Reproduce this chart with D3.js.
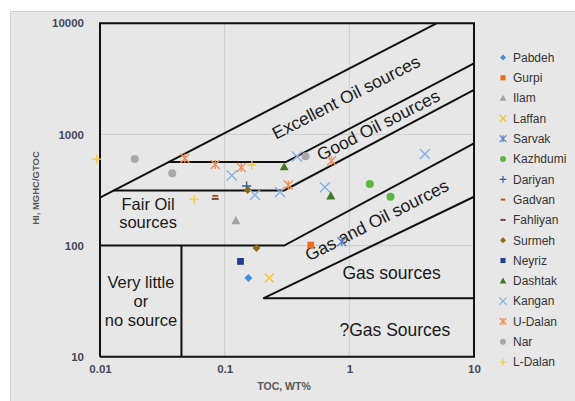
<!DOCTYPE html>
<html>
<head>
<meta charset="utf-8">
<script src="https://cdn.jsdelivr.net/npm/d3@7"></script>
<style>
  body { margin: 0; background: #fff; }
  svg text { font-family: "Liberation Sans", Arial, sans-serif; }
</style>
</head>
<body>
<div id="chart"></div>
<script>

// TOC (wt%), HI (mg HC / g TOC) pairs
const pabdeh   = [[0.155, 51]];
const gurpi    = [[0.49, 101]];
const ilam     = [[0.123, 168]];
const laffan   = [[0.228, 51]];
const sarvak   = [[0.87, 108]];
const kazhdumi = [[1.46, 358], [2.14, 275]];
const dariyan  = [[0.15, 344]];
const gadvan   = [[0.084, 280]];
const fahliyan = [[0.084, 263]];
const surmeh   = [[0.153, 317], [0.18, 95]];
const neyriz   = [[0.134, 72]];
const dashtak  = [[0.30, 513], [0.71, 280]];
const kangan   = [[0.114, 428], [0.175, 285], [0.278, 304], [0.38, 634], [0.637, 335], [4.04, 668]];
const uDalan   = [[0.048, 610], [0.084, 537], [0.136, 505], [0.324, 351], [0.72, 581]];
const nar      = [[0.019, 600], [0.038, 448], [0.445, 637]];
const lDalan   = [[0.0094, 600], [0.057, 262], [0.165, 531]];

const xTicks = [0.01, 0.1, 1, 10];
const yTicks = [10, 100, 1000, 10000];

// source-rock class boundaries (TOC, HI)
const boundaries = [
    [[0.01, 10], [10, 10], [10, 10000], [0.01, 10000], [0.01, 10]],
    [[0.01, 270], [5, 10000]],
    [[0.0356, 564], [0.31, 564], [10, 4365]],
    [[0.0129, 313], [0.30, 313], [10, 2512]],
    [[0.01, 100], [0.30, 100], [10, 832]],
    [[10, 275], [0.204, 33.5], [10, 33.5]],
    [[0.045, 10], [0.045, 100]]
];

const flatLabels = [
    { lines: ["Fair Oil", "sources"], at: [0.0243, 211] },
    { lines: ["Very little", "or", "no source"], at: [0.0213, 41.1] },
    { lines: ["Gas sources"], at: [2.18, 50] },
    { lines: ["?Gas Sources"], at: [2.32, 15.4] }
];
const slopeLabels = [
    { text: "Excellent Oil sources", at: [0.939, 2175] },
    { text: "Good Oil sources", at: [1.705, 1218] },
    { text: "Gas and Oil sources", at: [1.656, 170] }
];

const series = [
    { name: "Pabdeh",   data: pabdeh,   shape: "diamond",  colour: "#3f8fdc", size: 8 },
    { name: "Gurpi",    data: gurpi,    shape: "square",   colour: "#f26a1b", size: 8 },
    { name: "Ilam",     data: ilam,     shape: "triangle", colour: "#a3a3a3", size: 9 },
    { name: "Laffan",   data: laffan,   shape: "x",        colour: "#f7c325", size: 9 },
    { name: "Sarvak",   data: sarvak,   shape: "asterisk", colour: "#5a7fd2", size: 9 },
    { name: "Kazhdumi", data: kazhdumi, shape: "circle",   colour: "#5bb83a", size: 8 },
    { name: "Dariyan",  data: dariyan,  shape: "plus",     colour: "#2c5f9e", size: 9 },
    { name: "Gadvan",   data: gadvan,   shape: "dash",     colour: "#b4562a", size: 6 },
    { name: "Fahliyan", data: fahliyan, shape: "dash",     colour: "#6b4a44", size: 7 },
    { name: "Surmeh",   data: surmeh,   shape: "diamond",  colour: "#8c6a12", size: 8 },
    { name: "Neyriz",   data: neyriz,   shape: "square",   colour: "#1f3f8f", size: 8 },
    { name: "Dashtak",  data: dashtak,  shape: "triangle", colour: "#3e7a28", size: 9 },
    { name: "Kangan",   data: kangan,   shape: "x",        colour: "#86b2e0", size: 10 },
    { name: "U-Dalan",  data: uDalan,   shape: "asterisk", colour: "#f19058", size: 9 },
    { name: "Nar",      data: nar,      shape: "circle",   colour: "#a8a8a8", size: 8 },
    { name: "L-Dalan",  data: lDalan,   shape: "plus",     colour: "#fcc83a", size: 9 }
];

const filled = { diamond: true, square: true, triangle: true, circle: true };

function markerPath(shape, s) {
    const h = s / 2;
    switch (shape) {
        case "diamond":  return `M0,${-h}L${h},0L0,${h}L${-h},0Z`;
        case "square":   return `M${-h * 0.85},${-h * 0.85}h${s * 0.85}v${s * 0.85}h${-s * 0.85}Z`;
        case "triangle": return `M0,${-h}L${h},${h * 0.8}L${-h},${h * 0.8}Z`;
        case "circle":   return d3.symbol(d3.symbolCircle, Math.PI * h * h)();
        case "x":        return `M${-h},${-h}L${h},${h}M${-h},${h}L${h},${-h}`;
        case "plus":     return `M${-h},0L${h},0M0,${-h}L0,${h}`;
        case "asterisk": return `M${-h},${-h}L${h},${h}M${-h},${h}L${h},${-h}M0,${-h}L0,${h}`;
        case "dash":     return `M${-h},0L${h},0`;
    }
}

const svgWidth = 575, svgHeight = 401;
const plot = { left: 100, right: 474, top: 23.3, bottom: 356.7 };

const svg = d3.select("#chart").append("svg")
    .attr("width", svgWidth)
    .attr("height", svgHeight);

svg.append("rect")
    .attr("x", 10.5).attr("y", 11.5)
    .attr("width", svgWidth).attr("height", svgHeight)
    .attr("fill", "#e7e7e7")
    .attr("stroke", "#cfcfcf");

const x = d3.scaleLog().domain([0.01, 10]).range([plot.left, plot.right]);
const y = d3.scaleLog().domain([10, 10000]).range([plot.bottom, plot.top]);

// gridlines
const grid = svg.append("g").attr("class", "grid");
grid.selectAll(".vgrid")
    .data(xTicks.slice(1, -1))
    .enter().append("line")
    .attr("x1", d => x(d)).attr("x2", d => x(d))
    .attr("y1", plot.top).attr("y2", plot.bottom)
    .attr("stroke", "#cdcdcd").attr("stroke-width", 1);
grid.selectAll(".hgrid")
    .data(yTicks.slice(1, -1))
    .enter().append("line")
    .attr("y1", d => y(d)).attr("y2", d => y(d))
    .attr("x1", plot.left).attr("x2", plot.right)
    .attr("stroke", "#cdcdcd").attr("stroke-width", 1);

// axes
const tickColour = "#44475a";
const xAxis = svg.append("g")
    .attr("transform", `translate(0,${plot.bottom})`)
    .call(d3.axisBottom(x).tickValues(xTicks).tickFormat(d => String(d)).tickSize(0).tickPadding(8));
const yAxis = svg.append("g")
    .attr("transform", `translate(${plot.left},0)`)
    .call(d3.axisLeft(y).tickValues(yTicks).tickFormat(d => String(d)).tickSize(0).tickPadding(16));
[xAxis, yAxis].forEach(a => {
    a.select(".domain").remove();
    a.selectAll("text")
        .attr("fill", tickColour)
        .style("font-size", "11.5px")
        .style("font-weight", "bold")
        .style("font-family", "'Liberation Sans', Arial, sans-serif");
});

svg.append("text")
    .attr("x", 284).attr("y", 390)
    .attr("text-anchor", "middle")
    .attr("fill", "#595959")
    .style("font-size", "10.5px").style("font-weight", "bold")
    .text("TOC, WT%");

svg.append("text")
    .attr("transform", "translate(39,188) rotate(-90)")
    .attr("text-anchor", "middle")
    .attr("fill", "#595959")
    .style("font-size", "9.5px").style("font-weight", "bold")
    .text("HI, MGHC/GTOC");

// class boundaries
const line = d3.line().x(d => x(d[0])).y(d => y(d[1]));
svg.append("g").selectAll("path")
    .data(boundaries)
    .enter().append("path")
    .attr("d", line)
    .attr("fill", "none")
    .attr("stroke", "#111")
    .attr("stroke-width", 2)
    .attr("stroke-linejoin", "miter");

// class labels
const labelColour = "#1a1a1a";
flatLabels.forEach(l => {
    const multi = l.lines.length > 1;
    const t = svg.append("text")
        .attr("x", x(l.at[0])).attr("y", y(l.at[1]))
        .attr("text-anchor", "middle")
        .attr("fill", labelColour)
        .style("font-size", multi ? "16.5px" : "17.5px");
    l.lines.forEach((s, i) => {
        t.append("tspan")
            .attr("x", x(l.at[0]))
            .attr("dy", i === 0 ? 0 : 18.6)
            .text(s);
    });
});
slopeLabels.forEach(l => {
    svg.append("text")
        .attr("transform", `translate(${x(l.at[0])},${y(l.at[1])}) rotate(-27)`)
        .attr("text-anchor", "middle")
        .attr("dy", "0.36em")
        .attr("fill", labelColour)
        .style("font-size", "17.5px")
        .text(l.text);
});

// points
series.forEach(s => {
    svg.append("g").selectAll("path")
        .data(s.data)
        .enter().append("path")
        .attr("transform", d => `translate(${x(d[0])},${y(d[1])})`)
        .attr("d", markerPath(s.shape, s.size))
        .attr("fill", filled[s.shape] ? s.colour : "none")
        .attr("stroke", s.colour)
        .attr("stroke-width", filled[s.shape] ? 0 : (s.shape === "dash" ? 2 : 1.4));
});

// legend
const legend = svg.append("g").attr("transform", "translate(503,57.5)");
const items = legend.selectAll(".item")
    .data(series)
    .enter().append("g")
    .attr("transform", (d, i) => `translate(0,${i * 20.3})`);
items.append("path")
    .attr("d", d => markerPath(d.shape, d.size * 0.75))
    .attr("fill", d => filled[d.shape] ? d.colour : "none")
    .attr("stroke", d => d.colour)
    .attr("stroke-width", d => filled[d.shape] ? 0 : (d.shape === "dash" ? 2 : 1.2));
items.append("text")
    .attr("x", 10)
    .attr("dy", "0.36em")
    .attr("fill", "#333")
    .style("font-size", "12px")
    .text(d => d.name);

</script>
</body>
</html>
